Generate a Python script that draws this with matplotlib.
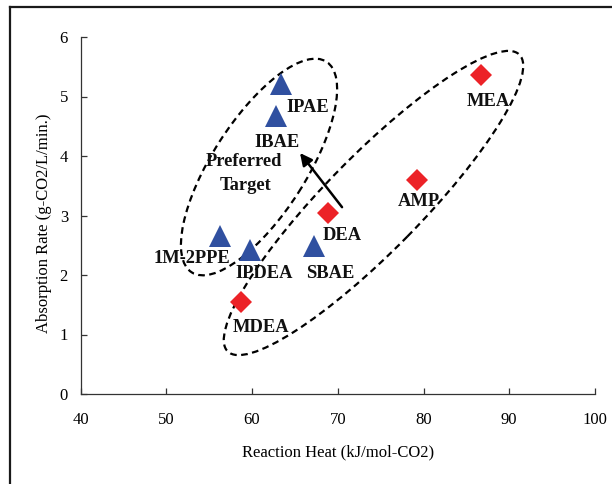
import numpy as np
import matplotlib
matplotlib.use('Agg')
import matplotlib.pyplot as plt
from matplotlib.patches import Ellipse
from matplotlib.lines import Line2D
from matplotlib.transforms import Affine2D, ScaledTranslation

plt.rcParams['font.family'] = ['Liberation Serif', 'DejaVu Serif']

# amines with a high absorption rate (triangles)
new_names = ['IPAE', 'IBAE', '1M-2PPE', 'IPDEA', 'SBAE']
new_heat = [63.4, 62.8, 56.3, 59.8, 67.2]
new_rate = [5.21, 4.67, 2.66, 2.42, 2.49]

# conventional amines (diamonds)
conv_names = ['DEA', 'MDEA', 'MEA', 'AMP']
conv_heat = [68.9, 58.7, 86.7, 79.2]
conv_rate = [3.04, 1.55, 5.36, 3.60]

# label anchors (x, baseline y, ha)
label_pos = {
    'IPAE': (64.0, 4.74, 'left'),
    'IBAE': (62.9, 4.15, 'center'),
    '1M-2PPE': (57.45, 2.20, 'right'),
    'IPDEA': (61.4, 1.95, 'center'),
    'SBAE': (69.1, 1.95, 'center'),
    'DEA': (70.5, 2.59, 'center'),
    'MDEA': (61.05, 1.04, 'center'),
    'MEA': (87.5, 4.84, 'center'),
    'AMP': (79.5, 3.16, 'center'),
}

fig = plt.figure(figsize=(6.12, 4.84), dpi=100)
ax = fig.add_axes([80.5 / 612, 1 - 394 / 484, (595 - 80.5) / 612, (394 - 37) / 484])

ax.plot(new_heat, new_rate, '^', ms=16, color='#3050A0', mec='#3050A0', mew=0, zorder=3)
ax.plot(conv_heat, conv_rate, 'D', ms=11, color='#EC2227', mec='#EC2227', mew=0, zorder=3)

for name, (x, y, ha) in label_pos.items():
    ax.text(x, y, name, ha=ha, va='baseline', fontsize=13.3, fontweight='bold', color='#111111', zorder=4)

ax.text(59.1, 3.83, 'Preferred', ha='center', va='baseline', fontsize=13.3, fontweight='bold', color='#111111')
ax.text(59.2, 3.43, 'Target', ha='center', va='baseline', fontsize=13.3, fontweight='bold', color='#111111')

ax.annotate('', xy=(65.6, 4.05), xytext=(70.5, 3.14),
            arrowprops=dict(arrowstyle='-|>', lw=1.8, color='black', mutation_scale=18, shrinkA=0, shrinkB=0))

# dashed ellipses, size in points around a data centre
pt = fig.dpi / 72
for cx, cy, a, b, ang in [(60.82, 3.815, 90, 33.8, 57.4), (74.17, 3.21, 149.8, 34.3, 45.5)]:
    tr = Affine2D().scale(pt) + ScaledTranslation(cx, cy, ax.transData)
    e = Ellipse((0, 0), 2 * a, 2 * b, angle=ang, transform=tr, fill=False,
                ec='black', lw=1.6, ls=(0, (3, 2)), zorder=2)
    ax.add_patch(e)

ax.set_xlim(40, 100)
ax.set_ylim(0, 6)
ax.set_xticks(range(40, 101, 10))
ax.set_yticks(range(0, 7))
for s in ['top', 'right']:
    ax.spines[s].set_visible(False)
for s in ['left', 'bottom']:
    ax.spines[s].set_color('#333333')
    ax.spines[s].set_linewidth(0.9)
ax.tick_params(axis='both', direction='in', length=4, width=0.9, color='#333333', labelsize=12)
ax.tick_params(axis='x', pad=13)
ax.tick_params(axis='y', pad=9)

ax.set_xlabel('Reaction Heat (kJ/mol-CO2)', fontsize=12)
ax.set_ylabel('Absorption Rate (g-CO2/L/min.)', fontsize=12)
ax.xaxis.set_label_coords(0.5, -0.142)
ax.yaxis.set_label_coords(-0.055, 0.479)

# outer frame (left and top edges)
fy = 1 - 6.5 / 484
fx = 9.5 / 612
fig.add_artist(Line2D([fx, fx], [0, fy], transform=fig.transFigure, color='#1a1a1a', lw=1.6))
fig.add_artist(Line2D([fx, 1], [fy, fy], transform=fig.transFigure, color='#1a1a1a', lw=1.6))

fig.savefig('out.png', dpi=100)
